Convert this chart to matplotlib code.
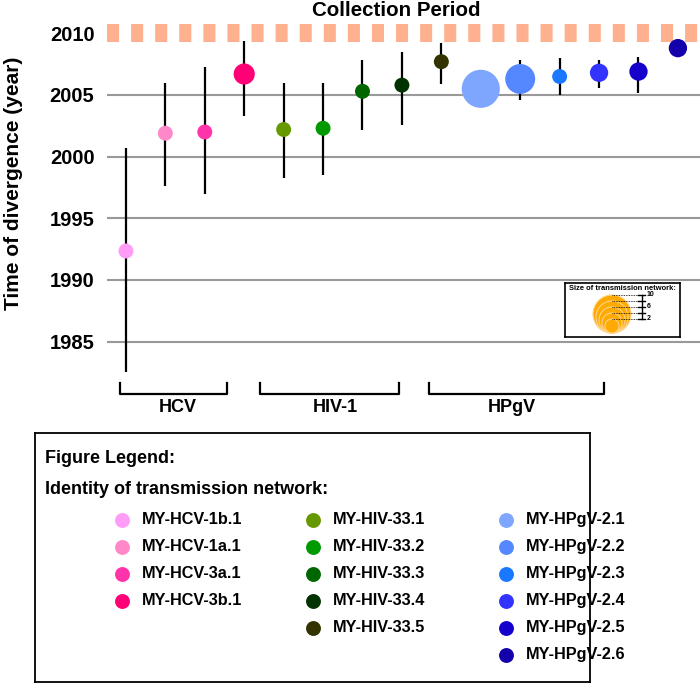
import matplotlib
matplotlib.use("Agg")
import matplotlib.pyplot as plt
from matplotlib.patches import Circle

plt.rcParams["font.family"] = ["Liberation Sans", "DejaVu Sans"]
plt.rcParams["font.weight"] = "bold"

# transmission networks and their estimated time of divergence
networks = ["MY-HCV-1b.1", "MY-HCV-1a.1", "MY-HCV-3a.1", "MY-HCV-3b.1",
            "MY-HIV-33.1", "MY-HIV-33.2", "MY-HIV-33.3", "MY-HIV-33.4", "MY-HIV-33.5",
            "MY-HPgV-2.1", "MY-HPgV-2.2", "MY-HPgV-2.3", "MY-HPgV-2.4", "MY-HPgV-2.5", "MY-HPgV-2.6"]
virus = ["HCV"] * 4 + ["HIV-1"] * 5 + ["HPgV"] * 6
tmrca = [1992.35, 2001.9, 2002.0, 2006.7, 2002.2, 2002.3, 2005.3, 2005.8, 2007.7,
         2005.5, 2006.3, 2006.5, 2006.8, 2006.9, 2008.8]
hpd_low = [1982.5, 1997.6, 1997.0, 2003.3, 1998.3, 1998.5, 2002.2, 2002.6, 2005.9,
           2004.6, 2004.6, 2005.0, 2005.6, 2005.2, 2008.3]
hpd_high = [2000.7, 2006.0, 2007.3, 2009.4, 2006.0, 2006.0, 2007.8, 2008.5, 2009.2,
            2006.6, 2007.8, 2008.0, 2007.8, 2008.1, 2009.3]
network_size = [2, 2, 2, 4, 2, 2, 2, 2, 2, 13, 8, 2, 3, 3, 3]
colors = ["#FF9CF7", "#FF88C8", "#FF33AA", "#FF0077",
          "#669900", "#009900", "#006600", "#003300", "#333300",
          "#7FA6FF", "#5588FF", "#1A77FF", "#3333FF", "#1500CC", "#1300AA"]
collection_year = 2010
groups = ["HCV", "HIV-1", "HPgV"]
legend_sizes = [10, 8, 6, 4, 2]

W, H = 700, 686
fig = plt.figure(figsize=(W / 100, H / 100), dpi=100)


def fx(px):
    return px / W


def fy(py):
    return 1 - py / H


ax = fig.add_axes([fx(107), fy(378.6), fx(593), (378.6 - 21.0) / H])
xs = list(range(len(networks)))
ax.set_xlim(-0.48, 14.56)
ax.set_ylim(1982, 2011)
yticks = [1985, 1990, 1995, 2000, 2005, 2010]
ax.set_yticks(yticks)
ax.set_xticks([])
ax.tick_params(axis="y", length=0, pad=9, labelsize=14.5)
for lab in ax.get_yticklabels():
    lab.set_fontweight("bold")
for s in ax.spines.values():
    s.set_visible(False)
for t in yticks[:-1]:
    ax.axhline(t, color="#999999", lw=1.5, zorder=0)

# collection period band
ax.axhline(collection_year, color="#FFB08F", lw=13, dashes=(0.667, 0.667), zorder=1)

ax.vlines(xs, hpd_low, hpd_high, color="black", lw=1.6, zorder=2)
ax.scatter(xs, tmrca, s=[n * 58 for n in network_size], c=colors, zorder=3, linewidths=0)

fig.text(fx(396), fy(10), "Collection Period", ha="center", va="center", fontsize=14.8)
fig.text(fx(14), fy(183), "Time of divergence (year)", rotation=90, ha="center", va="center",
         fontsize=15)

# group brackets
brackets = [(120, 227, 178), (260, 399, 335), (429, 604, 512)]
for (x0, x1, xc), g in zip(brackets, groups):
    fig.add_artist(plt.Line2D([fx(x0), fx(x0), fx(x1), fx(x1)],
                              [fy(383), fy(393.5), fy(393.5), fy(383)], color="black", lw=1.6))
    fig.text(fx(xc), fy(408), g, ha="center", va="center", fontsize=13)

# size inset
ins = fig.add_axes([fx(565), fy(337), fx(115), 54 / H])
ins.set_xlim(565, 680)
ins.set_ylim(337, 283)
ins.set_xticks([])
ins.set_yticks([])
for s in ins.spines.values():
    s.set_linewidth(1.2)
ins.text(622, 288, "Size of transmission network:", ha="center", va="center", fontsize=5.4)
cx, bottom = 612, 333
for n in legend_sizes:
    r = 4 + 1.5 * n
    ins.add_patch(Circle((cx, bottom - r), r, facecolor="#FFAA00", edgecolor="#FFD38A", lw=0.8))
    top = bottom - 2 * r
    ins.plot([cx, 642], [top, top], color="black", lw=0.6, ls=(0, (1, 1)))
    ins.plot([638.5, 645.5], [top, top], color="black", lw=1)
    if n in (10, 6, 2):
        ins.text(647, top, str(n), ha="left", va="center", fontsize=5)
ins.plot([642, 642], [bottom - 2 * (4 + 1.5 * 10), bottom - 2 * (4 + 1.5 * 2)], color="black", lw=1)

# figure legend box
lg = fig.add_axes([fx(35), fy(682), fx(555), 249 / H])
lg.set_xlim(35, 590)
lg.set_ylim(682, 433)
lg.set_xticks([])
lg.set_yticks([])
for s in lg.spines.values():
    s.set_linewidth(1.3)
lg.text(45, 459, "Figure Legend:", ha="left", va="center", fontsize=13)
lg.text(45, 490, "Identity of transmission network:", ha="left", va="center", fontsize=13)
col_x = {"HCV": 122, "HIV-1": 313, "HPgV": 506}
row = {g: 0 for g in groups}
for name, g, c in zip(networks, virus, colors):
    y = 520 + 27 * row[g]
    row[g] += 1
    lg.scatter([col_x[g]], [y], s=115, c=[c], linewidths=0)
    lg.text(col_x[g] + 20, y, name, ha="left", va="center", fontsize=11.7)

fig.savefig("out.png", dpi=100)
